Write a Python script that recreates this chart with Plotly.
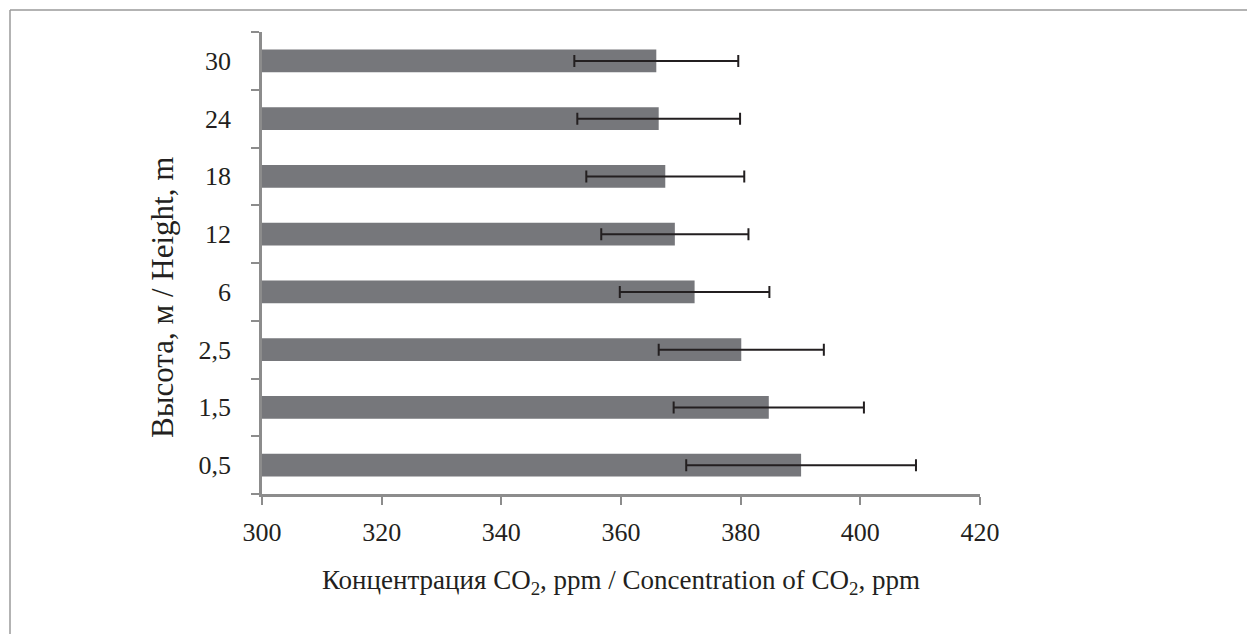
import plotly.graph_objects as go

heights = ["0,5", "1,5", "2,5", "6", "12", "18", "24", "30"]
co2 = [390.1, 384.7, 380.1, 372.3, 369.0, 367.4, 366.3, 365.9]
err = [19.2, 15.9, 13.8, 12.5, 12.3, 13.2, 13.6, 13.7]

x_ticks = [300, 320, 340, 360, 380, 400, 420]
x_title = "Концентрация CO<sub>2</sub>, ppm / Concentration of CO<sub>2</sub>, ppm"
y_title = "Высота, м / Height, m"

FONT = "Liberation Serif"
TEXT = "#231f20"
AXIS_COLOR = "#8c8c8c"

fig = go.Figure()
fig.add_trace(go.Bar(
    y=heights, x=co2, orientation="h",
    marker=dict(color="#76777b", line=dict(width=0)),
    error_x=dict(type="data", array=err, visible=True, color=TEXT,
                 thickness=2, width=6),
    width=0.39,
))

L, R, T, B = 262, 267, 32, 140
W, H = 1247, 634
pw = W - L - R
ph = H - T - B

def px_x(p):
    return (p - L) / pw

def px_y(p):
    return (H - B - p) / ph

fig.update_layout(
    width=W, height=H,
    margin=dict(l=L, r=R, t=T, b=B),
    paper_bgcolor="white", plot_bgcolor="white",
    showlegend=False,
    font=dict(family=FONT, color=TEXT, size=26),
    xaxis=dict(
        range=[300, 420], tickvals=x_ticks, ticktext=[str(v) for v in x_ticks],
        showgrid=False, zeroline=False,
        showline=True, linecolor=AXIS_COLOR, linewidth=2.5,
        ticks="outside", ticklen=8, tickwidth=2, tickcolor=AXIS_COLOR,
        tickfont=dict(size=26, family=FONT, color=TEXT),
        ticklabelstandoff=5,
        title=dict(text=x_title, font=dict(size=27, family=FONT, color=TEXT), standoff=25),
    ),
    yaxis=dict(
        type="category", categoryorder="array", categoryarray=heights,
        showgrid=False, zeroline=False,
        showline=True, linecolor=AXIS_COLOR, linewidth=2.5,
        ticks="outside", ticklen=8, tickwidth=2, tickcolor=AXIS_COLOR,
        tickson="boundaries",
        tickfont=dict(size=26, family=FONT, color=TEXT),
        ticklabelstandoff=23,
    ),
    annotations=[
        dict(text=y_title, textangle=-90, showarrow=False,
             xref="paper", yref="paper", x=px_x(163), y=px_y(298),
             xanchor="center", yanchor="middle",
             font=dict(size=31, family=FONT, color=TEXT)),
    ],
    shapes=[
        dict(type="line", xref="paper", yref="paper",
             x0=px_x(10), x1=px_x(10), y0=px_y(10), y1=px_y(H),
             line=dict(color="#9a9a9a", width=1.5)),
        dict(type="line", xref="paper", yref="paper",
             x0=px_x(10), x1=px_x(W), y0=px_y(10), y1=px_y(10),
             line=dict(color="#9a9a9a", width=1.5)),
    ],
)

fig.write_html("out.html")
